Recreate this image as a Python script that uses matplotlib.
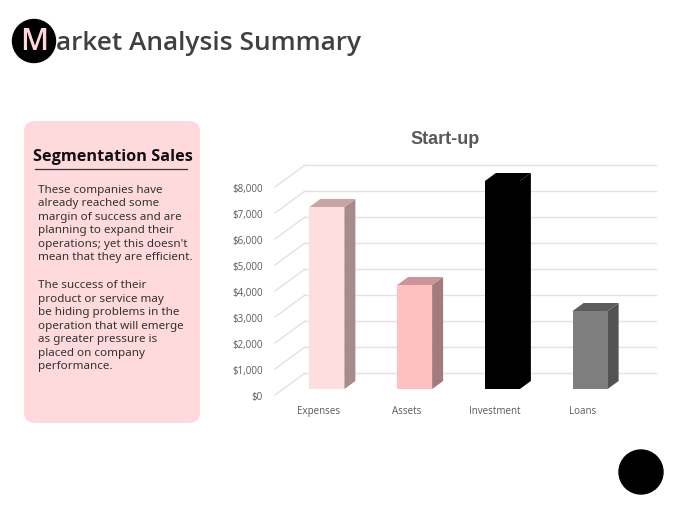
import matplotlib
matplotlib.use('Agg')
import matplotlib.pyplot as plt
from matplotlib.patches import Polygon, Circle, FancyBboxPatch
import numpy as np

# ---- data ----
categories = ['Expenses', 'Assets', 'Investment', 'Loans']
values = [7000, 4000, 8000, 3000]
tick_values = [0, 1000, 2000, 3000, 4000, 5000, 6000, 7000, 8000]
tick_labels = ['$0', '$1,000', '$2,000', '$3,000', '$4,000', '$5,000', '$6,000', '$7,000', '$8,000']
chart_title = 'Start-up'
slide_title_first = 'M'
slide_title_rest = 'arket Analysis Summary'
box_heading = 'Segmentation Sales'
para1 = ['These companies have', 'already reached some', 'margin of success and are',
         'planning to expand their', "operations; yet this doesn't", 'mean that they are efficient.']
para2 = ['The success of their', 'product or service may', 'be hiding problems in the',
         'operation that will emerge', 'as greater pressure is', 'placed on company', 'performance.']

front_colors = ['#FFDCDE', '#FFC0C0', '#000000', '#7F7F7F']
side_colors = ['#A88B8D', '#A27C7C', '#000000', '#535353']
top_colors = ['#C9A4A6', '#CC9496', '#000000', '#5C5C5C']

W, H = 680, 510
fig = plt.figure(figsize=(6.8, 5.1), dpi=100)
fig.patch.set_facecolor('white')
bg = fig.add_axes([0, 0, 1, 1])
bg.set_xlim(0, W)
bg.set_ylim(H, 0)
bg.axis('off')

# ---- slide decorations ----
bg.add_patch(Circle((34, 42), 21.5, color='black', zorder=1))
bg.text(34.5, 42, slide_title_first, ha='center', va='center', fontsize=22, fontweight='semibold',
        color='#FFD6D9', family='Open Sans', zorder=2)
bg.text(56, 43, slide_title_rest, ha='left', va='center', fontsize=18.9, fontweight='semibold',
        color='#404040', family='Open Sans', zorder=2)
bg.add_patch(Circle((641, 473), 22, color='black', zorder=1))

bg.add_patch(FancyBboxPatch((24, 122), 176, 302, boxstyle='round,pad=0,rounding_size=11',
                            fc='#FFDADC', ec='none', zorder=0))
bg.text(113, 157, box_heading, ha='center', va='center', fontsize=11.7, fontweight='bold',
        color='#111111', family='Open Sans')
bg.plot([35, 187], [170, 170], color='#333333', lw=0.9)
for i, line in enumerate(para1):
    bg.text(38, 190.5 + 13.45 * i, line, ha='left', va='center', fontsize=8.4,
            color='#333333', family='Noto Sans')
for i, line in enumerate(para2):
    bg.text(38, 285.5 + 13.55 * i, line, ha='left', va='center', fontsize=8.4,
            color='#333333', family='Noto Sans')

bg.text(445, 140, chart_title, ha='center', va='center', fontsize=13, fontweight='bold',
        color='#595959', family='Liberation Sans')

# ---- chart axes (front plane) ----
x0px, x1px = 275, 626
y0px, y1px = 396, 162
ax = fig.add_axes([x0px / W, 1 - y0px / H, (x1px - x0px) / W, (y0px - y1px) / H])
ax.set_xlim(-0.5, 3.5)
ax.set_ylim(0, 9000)
ax.patch.set_alpha(0)
for s in ax.spines.values():
    s.set_visible(False)

px_x = (x1px - x0px) / 4.0
px_y = (y0px - y1px) / 9000.0
def dx(p):
    return p / px_x
def dy(p):
    return p / px_y

grid_c = '#e2e2e2'
for v in tick_values:
    ax.plot([-0.5 + dx(30), 3.5 + dx(30)], [v + dy(22)] * 2, color=grid_c, lw=1,
            clip_on=False, zorder=0)
    ax.plot([-0.5, -0.5 + dx(30)], [v, v + dy(22)], color=grid_c, lw=1,
            clip_on=False, zorder=0)

xs = np.arange(len(categories))
bars = ax.bar(xs + dx(8), values, width=dx(35), bottom=dy(6), color=front_colors,
              zorder=3, clip_on=False)
ddx, ddy = dx(11), dy(8)
for b, sc, tc in zip(bars, side_colors, top_colors):
    xl = b.get_x(); xr = xl + b.get_width()
    yb = b.get_y(); yt = yb + b.get_height()
    ax.add_patch(Polygon([(xr, yb), (xr, yt), (xr + ddx, yt + ddy), (xr + ddx, yb + ddy)],
                         closed=True, fc=sc, ec='none', zorder=2, clip_on=False))
    ax.add_patch(Polygon([(xl, yt), (xr, yt), (xr + ddx, yt + ddy), (xl + ddx, yt + ddy)],
                         closed=True, fc=tc, ec='none', zorder=2, clip_on=False))

ax.set_yticks(tick_values, tick_labels)
ax.set_xticks(xs, categories)
ax.tick_params(axis='y', length=0, pad=8.6, labelsize=7, labelcolor='#595959')
ax.tick_params(axis='x', length=0, pad=7, labelsize=7, labelcolor='#595959')
for lab in ax.get_xticklabels() + ax.get_yticklabels():
    lab.set_family('Open Sans')

fig.savefig('out.png', dpi=100)
